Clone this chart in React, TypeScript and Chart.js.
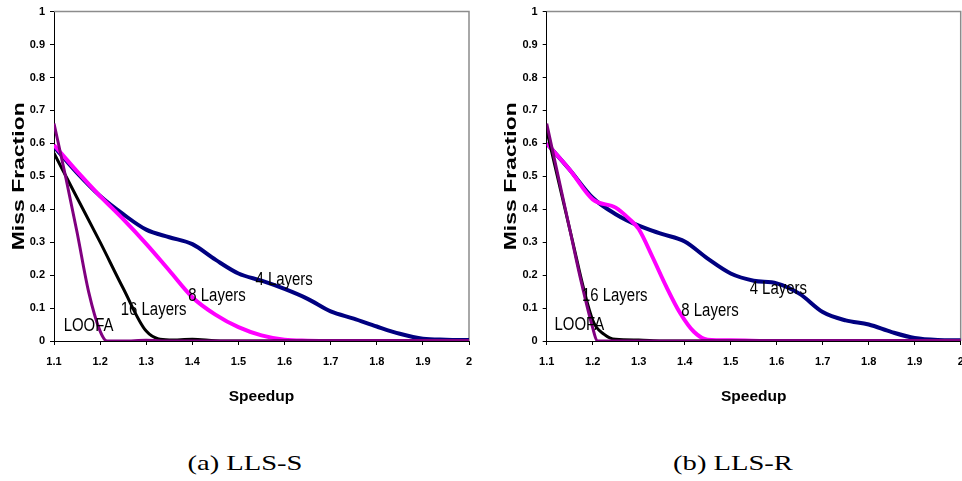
import React, { useEffect, useRef } from 'react';
import { Chart, registerables } from 'chart.js';

Chart.register(...registerables);

// ---------- tick labels ----------
const xTickValues = [1.1, 1.2, 1.3, 1.4, 1.5, 1.6, 1.7, 1.8, 1.9, 2.0];
const xTickLabels = ['1.1', '1.2', '1.3', '1.4', '1.5', '1.6', '1.7', '1.8', '1.9', '2'];
const yTickValues = [0, 0.1, 0.2, 0.3, 0.4, 0.5, 0.6, 0.7, 0.8, 0.9, 1];
const yTickLabels = ['0', '0.1', '0.2', '0.3', '0.4', '0.5', '0.6', '0.7', '0.8', '0.9', '1'];

const xAxisTitle = 'Speedup';
const yAxisTitle = 'Miss Fraction';
const seriesNames = ['4 Layers', '8 Layers', '16 Layers', 'LOOFA'];

// common speedup grid
const gridX = [1.1, 1.15, 1.2, 1.25, 1.3, 1.35, 1.4, 1.45, 1.5, 1.55, 1.6, 1.65, 1.7, 1.75, 1.8, 1.85, 1.9, 1.95, 2.0];

// ---------- (a) LLS-S ----------
const sFourY = [0.59, 0.51, 0.44, 0.385, 0.338, 0.315, 0.294, 0.247, 0.205, 0.183, 0.158, 0.128, 0.09, 0.068, 0.044, 0.022, 0.007, 0.004, 0.003];
const sEightY = [0.595, 0.515, 0.44, 0.37, 0.295, 0.214, 0.133, 0.08, 0.042, 0.017, 0.004, 0.001, 0, 0, 0, 0, 0, 0, 0];
const sSixteenY = [0.57, 0.435, 0.3, 0.16, 0.03, 0.003, 0.005, 0.001, 0, 0, 0, 0, 0, 0, 0, 0, 0, 0, 0];
const sLoofaX = [1.1, 1.125, 1.15, 1.175, 1.2, 1.215, 1.25, 1.3, 1.35, 1.4, 1.5, 1.6, 1.7, 1.8, 1.9, 2.0];
const sLoofaY = [0.66, 0.5, 0.33, 0.15, 0.03, 0, 0, 0.002, 0, 0, 0, 0, 0, 0, 0, 0];
const sLabelX = [1.599, 1.4535, 1.316, 1.175];
const sLabelY = [0.186, 0.136, 0.094, 0.046];
const sCaption = '(a) LLS-S';

// ---------- (b) LLS-R ----------
const rFourY = [0.6, 0.52, 0.435, 0.385, 0.35, 0.325, 0.302, 0.25, 0.205, 0.183, 0.175, 0.143, 0.088, 0.0625, 0.05, 0.027, 0.009, 0.003, 0.002];
const rEightX = [1.1, 1.15, 1.2, 1.25, 1.28, 1.3, 1.33, 1.36, 1.39, 1.42, 1.45, 1.5, 1.6, 1.7, 1.8, 1.9, 2.0];
const rEightY = [0.6, 0.52, 0.43, 0.405, 0.37, 0.34, 0.255, 0.165, 0.085, 0.028, 0.004, 0.002, 0, 0, 0, 0, 0];
const rSixteenX = [1.1, 1.15, 1.2, 1.225, 1.25, 1.3, 1.35, 1.4, 1.5, 1.6, 1.7, 1.8, 1.9, 2.0];
const rSixteenY = [0.64, 0.34, 0.063, 0.02, 0.005, 0.003, 0, 0, 0, 0, 0, 0, 0, 0];
const rLoofaX = [1.1, 1.125, 1.15, 1.175, 1.2, 1.21, 1.25, 1.3, 1.4, 1.5, 1.6, 1.7, 1.8, 1.9, 2.0];
const rLoofaY = [0.66, 0.5, 0.34, 0.18, 0.04, 0, 0, 0, 0, 0, 0, 0, 0, 0, 0];
const rLabelX = [1.6035, 1.455, 1.248, 1.171];
const rLabelY = [0.157, 0.091, 0.136, 0.048];
const rCaption = '(b) LLS-R';

// ---------- styles ----------
const SANS = "'Liberation Sans', Arial, sans-serif";
const SERIF = "'Liberation Serif', 'Times New Roman', serif";
const COLORS = ['#000080', '#FF00FF', '#000000', '#800080'];
const WIDTHS = [4, 4, 3, 3];
const ORDERS = [4, 3, 2, 1];

const zip = (xs: number[], ys: number[]) => xs.map((x, i) => ({ x, y: ys[i] }));

type PanelDef = {
  series: { x: number[]; y: number[] }[];
  labelX: number[];
  labelY: number[];
};

const panelS: PanelDef = {
  series: [
    { x: gridX, y: sFourY },
    { x: gridX, y: sEightY },
    { x: gridX, y: sSixteenY },
    { x: sLoofaX, y: sLoofaY },
  ],
  labelX: sLabelX,
  labelY: sLabelY,
};

const panelR: PanelDef = {
  series: [
    { x: gridX, y: rFourY },
    { x: rEightX, y: rEightY },
    { x: rSixteenX, y: rSixteenY },
    { x: rLoofaX, y: rLoofaY },
  ],
  labelX: rLabelX,
  labelY: rLabelY,
};

function makeOverlay(def: PanelDef) {
  return {
    id: 'overlay',
    beforeDatasetsDraw(chart: any) {
      const { ctx, chartArea: a } = chart;
      ctx.save();
      ctx.strokeStyle = '#8c8c8c';
      ctx.lineWidth = 1.5;
      ctx.beginPath();
      ctx.moveTo(a.left, a.top);
      ctx.lineTo(a.right, a.top);
      ctx.lineTo(a.right, a.bottom);
      ctx.stroke();
      ctx.restore();
    },
    afterDatasetsDraw(chart: any) {
      const { ctx, chartArea: a, scales } = chart;
      ctx.fillStyle = '#000';
      ctx.textAlign = 'center';
      ctx.textBaseline = 'middle';
      // series labels (narrow, like Arial Narrow)
      seriesNames.forEach((name, i) => {
        const px = scales.x.getPixelForValue(def.labelX[i]);
        const py = scales.y.getPixelForValue(def.labelY[i]);
        ctx.save();
        ctx.font = `18px ${SANS}`;
        ctx.translate(px, py);
        ctx.scale(0.83, 1);
        ctx.fillText(name, 0, 0);
        ctx.restore();
      });
      // y axis title (stretched like the source)
      ctx.save();
      ctx.translate(a.left - 35, (a.top + a.bottom) / 2);
      ctx.rotate(-Math.PI / 2);
      ctx.scale(1.35, 1);
      ctx.font = `bold 17px ${SANS}`;
      ctx.fillText(yAxisTitle, 0, 0);
      ctx.restore();
    },
  };
}

function Panel({ def, left, yAxisWidth, padRight }: { def: PanelDef; left: number; yAxisWidth: number; padRight: number }) {
  const ref = useRef<HTMLCanvasElement>(null);
  useEffect(() => {
    const chart = new Chart(ref.current as HTMLCanvasElement, {
      type: 'line',
      data: {
        datasets: def.series.map((s, i) => ({
          label: seriesNames[i],
          data: zip(s.x, s.y),
          borderColor: COLORS[i],
          backgroundColor: COLORS[i],
          borderWidth: WIDTHS[i],
          pointRadius: 0,
          fill: false,
          cubicInterpolationMode: 'monotone' as const,
          order: ORDERS[i],
        })),
      },
      options: {
        animation: false,
        responsive: false,
        devicePixelRatio: 1,
        layout: { padding: { left: 0, right: padRight, top: 10, bottom: 0 } },
        plugins: { legend: { display: false }, tooltip: { enabled: false } },
        scales: {
          x: {
            type: 'linear',
            min: 1.1,
            max: 2.0,
            afterBuildTicks: (scale: any) => {
              scale.ticks = xTickValues.map((v) => ({ value: v }));
            },
            afterFit: (scale: any) => {
              scale.height = 79;
              scale.paddingLeft = 0;
              scale.paddingRight = 0;
            },
            grid: { drawOnChartArea: false, drawTicks: true, tickLength: 4, color: '#000', lineWidth: 1 },
            border: { display: true, color: '#000', width: 1 },
            ticks: {
              autoSkip: false,
              maxRotation: 0,
              padding: 10,
              color: '#000',
              font: { family: SANS, size: 11, weight: 'bold' },
              callback: (_v: any, i: number) => xTickLabels[i],
            },
            title: {
              display: true,
              text: xAxisTitle,
              color: '#000',
              font: { family: SANS, size: 15.5, weight: 'bold' },
              padding: { top: 0, bottom: 14 },
            },
          },
          y: {
            type: 'linear',
            min: 0,
            max: 1,
            afterBuildTicks: (scale: any) => {
              scale.ticks = yTickValues.map((v) => ({ value: v }));
            },
            afterFit: (scale: any) => {
              scale.width = yAxisWidth;
            },
            grid: { drawOnChartArea: false, drawTicks: true, tickLength: 4, color: '#000', lineWidth: 1 },
            border: { display: true, color: '#000', width: 1 },
            ticks: {
              autoSkip: false,
              padding: 5,
              color: '#000',
              font: { family: SANS, size: 11, weight: 'bold' },
              callback: (_v: any, i: number) => yTickLabels[i],
            },
          },
        },
      },
      plugins: [makeOverlay(def)],
    } as any);
    return () => chart.destroy();
  }, []);
  return (
    <canvas
      ref={ref}
      width={481}
      height={420}
      style={{ position: 'absolute', left, top: 0, width: 481, height: 420 }}
    />
  );
}

function Caption({ text, cx }: { text: string; cx: number }) {
  return (
    <div
      style={{
        position: 'absolute',
        left: cx,
        top: 451,
        fontFamily: SERIF,
        fontSize: 21,
        lineHeight: '24px',
        whiteSpace: 'nowrap',
        color: '#000',
        transform: 'translateX(-50%) scaleX(1.36)',
        transformOrigin: 'center',
      }}
    >
      {text}
    </div>
  );
}

export default function App() {
  return (
    <div style={{ position: 'fixed', left: 0, top: 0, width: 962, height: 481, background: '#fff', overflow: 'hidden' }}>
      <Panel def={panelS} left={0} yAxisWidth={54} padRight={12} />
      <Panel def={panelR} left={481} yAxisWidth={65.7} padRight={1.3} />
      <Caption text={sCaption} cx={245} />
      <Caption text={rCaption} cx={733} />
    </div>
  );
}
